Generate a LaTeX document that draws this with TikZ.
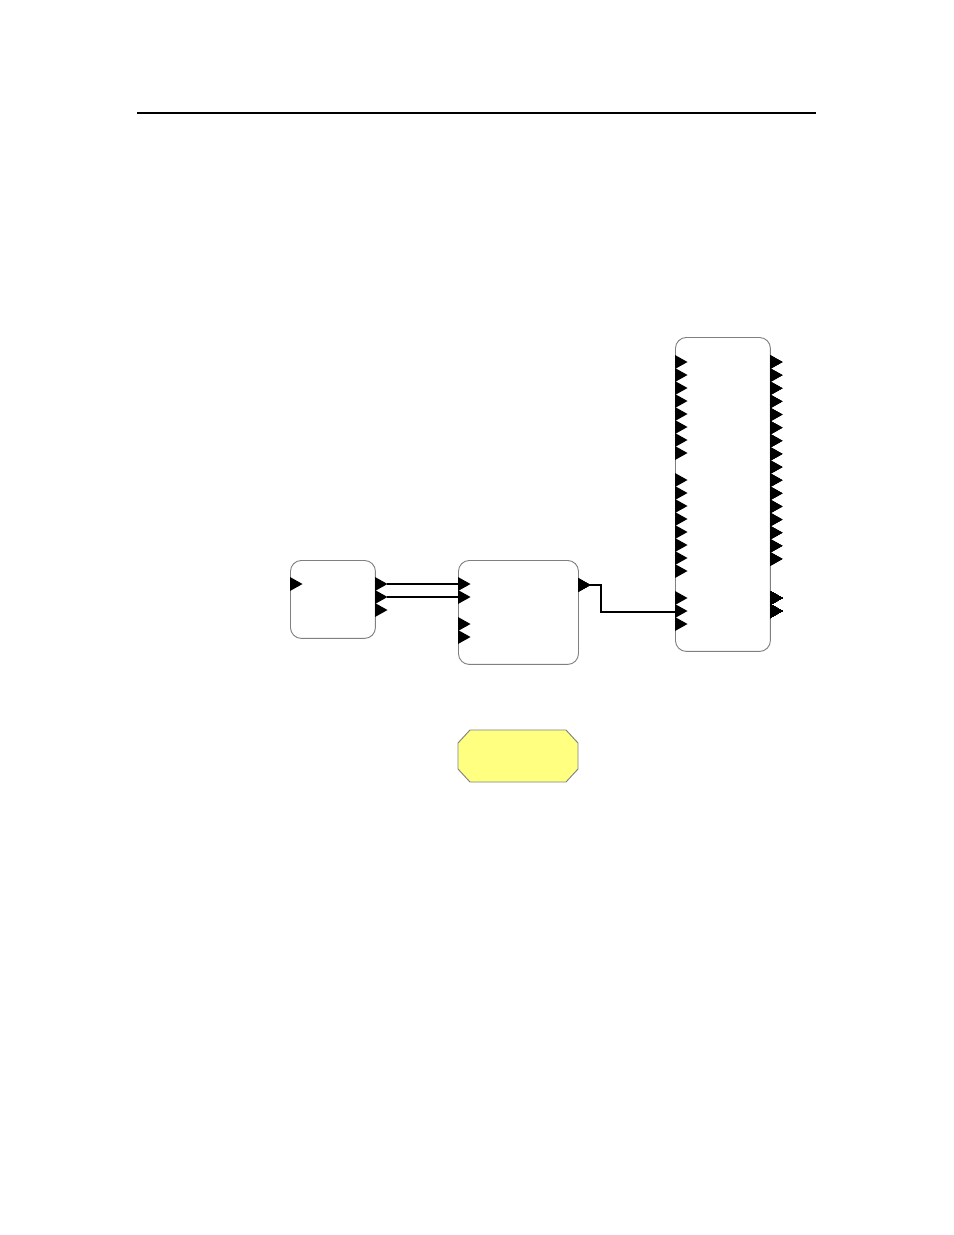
\documentclass[tikz,border=0pt]{standalone}
\definecolor{notefill}{RGB}{255,255,128}
\definecolor{edge}{RGB}{128,128,128}
\newcommand\inpin[2]{\fill (#1,#2) +(0,-7) -- +(12.5,0) -- +(0,7) -- cycle;}
\begin{document}
\begin{tikzpicture}[x=0.6415pt, y=-0.6415pt,
	blk/.style={draw=edge, line width=0.6pt, rounded corners=7pt, inner sep=0pt, anchor=north west},
	wire/.style={line width=0.8pt}]
	\useasboundingbox (0,0) rectangle (954,1235);
	% header rule
	\draw[line width=1.3pt] (137,113) -- (816,113);
	% blocks
	\node[blk, minimum width=54.5pt, minimum height=50pt] (src) at (290,560) {};
	\node[blk, minimum width=77pt, minimum height=66.7pt] (mix) at (458,560) {};
	\node[blk, minimum width=60.9pt, minimum height=201.4pt] (bus) at (675,337) {};
	% note
	\draw[draw=edge, line width=0.6pt, fill=notefill]
		(470,730) -- (566,730) -- (578,743) -- (578,769) -- (566,782)
		-- (470,782) -- (458,769) -- (458,743) -- cycle;
	% pins of src
	\inpin{290}{584}
	\foreach \y in {584,597,610} \inpin{375}{\y}
	\coordinate (src-o1) at (387,584);
	\coordinate (src-o2) at (387,597);
	% pins of mix
	\foreach \y in {584,597,624,637} \inpin{458}{\y}
	\inpin{578}{585}
	\coordinate (mix-i1) at (458,584);
	\coordinate (mix-i2) at (458,597);
	\coordinate (mix-o1) at (590,585);
	% pins of bus
	\foreach \k in {0,...,7} {
		\inpin{675}{362+13*\k}
		\inpin{675}{480+13*\k}
	}
	\foreach \y in {598,611,624} \inpin{675}{\y}
	\foreach \k in {0,...,15} \inpin{770}{362+13.13*\k}
	\foreach \y in {598,611} \inpin{770}{\y}
	\coordinate (bus-i18) at (675,612);
	% wires
	\draw[wire] (src-o1) -- (mix-i1);
	\draw[wire] (src-o2) -- (mix-i2);
	\draw[wire] (mix-o1) -- ++(11,0) |- (bus-i18);
\end{tikzpicture}
\end{document}
